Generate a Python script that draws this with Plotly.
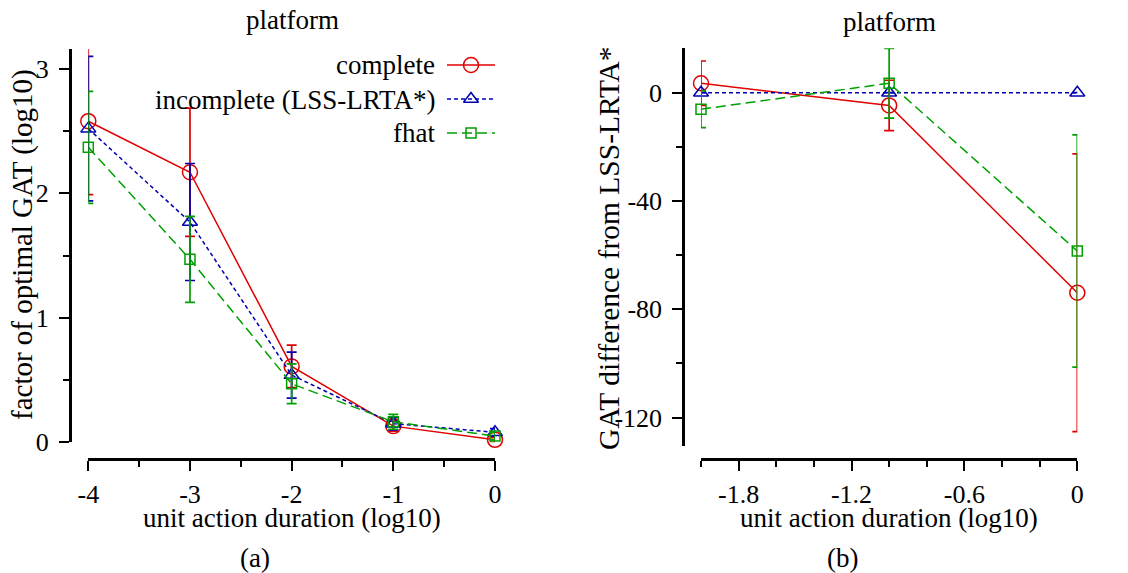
import plotly.graph_objects as go

# ---------------- data ----------------
series_names = ["complete", "incomplete (LSS-LRTA*)", "fhat"]

# panel (a)
a_x = [-4, -3, -2, -1, 0]
a_complete = [2.58, 2.17, 0.61, 0.13, 0.02]
a_complete_err = [0.59, 0.515, 0.17, 0.04, 0.02]
a_incomplete = [2.52, 1.77, 0.54, 0.15, 0.08]
a_incomplete_err = [0.58, 0.47, 0.185, 0.05, 0.03]
a_fhat = [2.37, 1.47, 0.47, 0.165, 0.05]
a_fhat_err = [0.45, 0.345, 0.16, 0.06, 0.03]

# panel (b)
b_x = [-2, -1, 0]
b_complete = [3.5, -4.7, -73.9]
b_complete_err = [8.2, 9.3, 51.3]
b_incomplete = [0, 0, 0]
b_incomplete_err = [0, 0, 0]
b_fhat = [-6.1, 3.5, -58.5]
b_fhat_err = [6.8, 12.9, 42.9]

a_xticks = [-4, -3, -2, -1, 0]
a_xticktext = ["-4", "-3", "-2", "-1", "0"]
a_yticks = [0, 1, 2, 3]
a_yticktext = ["0", "1", "2", "3"]
b_xticks = [-1.8, -1.2, -0.6, 0]
b_xticktext = ["-1.8", "-1.2", "-0.6", "0"]
b_yticks = [0, -40, -80, -120]
b_yticktext = ["0", "-40", "-80", "-120"]

# ---------------- styling ----------------
W, H = 1128, 573
FONT = "Liberation Serif, Times New Roman, Times, serif"
RED = "#e00000"
BLUE = "#0000b0"
GREEN = "#00a000"
colors = [RED, BLUE, GREEN]
dashes = ["solid", "4px,3px", "10px,5px"]
symbols = ["circle-open", "triangle-up-open", "square-open"]
msizes = [15, 13, 10]


def px(x):
    return x / W


def py(y):
    return 1 - y / H


fig = go.Figure()


def add_series(xs, ys, errs, i, xa, ya):
    fig.add_trace(go.Scatter(
        x=xs, y=ys, mode="lines+markers", xaxis=xa, yaxis=ya,
        line=dict(color=colors[i], width=1.5, dash=dashes[i]),
        marker=dict(symbol=symbols[i], size=msizes[i], color=colors[i],
                    line=dict(color=colors[i], width=1.5)),
        error_y=dict(type="data", array=errs, symmetric=True,
                     color=colors[i], thickness=1.7, width=5),
        cliponaxis=False, showlegend=False, name=series_names[i]))


for i, (ys, es) in enumerate([(a_complete, a_complete_err),
                              (a_incomplete, a_incomplete_err),
                              (a_fhat, a_fhat_err)]):
    add_series(a_x, ys, es, i, "x", "y")

for i, (ys, es) in enumerate([(b_complete, b_complete_err),
                              (b_incomplete, b_incomplete_err),
                              (b_fhat, b_fhat_err)]):
    add_series(b_x, ys, es, i, "x2", "y2")

# legend samples (custom, symbol to the right of the text)
legend_rows = [2, 1, 0]
for i, r in enumerate(legend_rows):
    fig.add_trace(go.Scatter(
        x=[0, 1], y=[r, r], mode="lines", xaxis="x3", yaxis="y3",
        line=dict(color=colors[i], width=1.5, dash=dashes[i]),
        showlegend=False, hoverinfo="skip"))
    fig.add_trace(go.Scatter(
        x=[0.5], y=[r], mode="markers", xaxis="x3", yaxis="y3",
        marker=dict(symbol=symbols[i], size=msizes[i], color=colors[i],
                    line=dict(color=colors[i], width=1.5)),
        cliponaxis=False, showlegend=False, hoverinfo="skip"))

tickfont = dict(family=FONT, size=26, color="black")
common_axis = dict(showgrid=False, zeroline=False, showline=True,
                   linecolor="black", linewidth=2.5, ticks="outside",
                   ticklen=10, tickwidth=2, tickcolor="black",
                   tickfont=tickfont, automargin=False)

fig.update_layout(
    width=W, height=H,
    margin=dict(l=0, r=0, t=0, b=0, pad=0, autoexpand=False),
    paper_bgcolor="white", plot_bgcolor="white",
    font=dict(family=FONT, size=26, color="black"),
    xaxis=dict(**common_axis, domain=[px(88.3), px(495)], range=[-4, 0],
               anchor="free", position=py(459.3),
               tickvals=a_xticks, ticktext=a_xticktext,
               ticklabelstandoff=1,
               minor=dict(dtick=0.5, tick0=0, ticks="outside", ticklen=6,
                          tickwidth=2, tickcolor="black")),
    yaxis=dict(**common_axis, domain=[py(442.3), py(49)], range=[0, 3.16],
               anchor="free", position=px(70),
               tickvals=a_yticks, ticktext=a_yticktext,
               ticklabelstandoff=5,
               minor=dict(dtick=0.5, tick0=0, ticks="outside", ticklen=6,
                          tickwidth=2, tickcolor="black")),
    xaxis2=dict(**common_axis, domain=[px(701), px(1077.3)], range=[-2, 0],
                anchor="free", position=py(459),
                tickvals=b_xticks, ticktext=b_xticktext,
                ticklabelstandoff=1,
                minor=dict(dtick=0.2, tick0=0, ticks="outside", ticklen=6,
                           tickwidth=2, tickcolor="black")),
    yaxis2=dict(**common_axis, domain=[py(445.7), py(48.3)],
                range=[-130.4, 16.4],
                anchor="free", position=px(683.3),
                tickvals=b_yticks, ticktext=b_yticktext,
                ticklabelstandoff=5,
                minor=dict(dtick=20, tick0=0, ticks="outside", ticklen=6,
                           tickwidth=2, tickcolor="black")),
    xaxis3=dict(domain=[px(447), px(495)], range=[0, 1], visible=False,
                anchor="y3", fixedrange=True),
    yaxis3=dict(domain=[py(150), py(48)], range=[-0.5, 2.5], visible=False,
                anchor="x3", fixedrange=True),
)

ann = []


def text(s, x, y, size=27, angle=0, xanchor="center"):
    ann.append(dict(text=s, x=px(x), y=py(y), xref="paper", yref="paper",
                    showarrow=False, xanchor=xanchor, yanchor="middle",
                    textangle=angle,
                    font=dict(family=FONT, size=size, color="black")))


# titles
text("platform", 292, 20)
text("platform", 889, 22)
# axis titles
text("unit action duration (log10)", 292, 518)
text("unit action duration (log10)", 889, 518)
text("factor of optimal GAT (log10)", 22, 245, size=29, angle=-90)
text("GAT difference from LSS-LRTA*", 609, 248, size=29.5, angle=-90)
# panel labels
text("(a)", 255, 558)
text("(b)", 842, 558)
# legend labels
for name, yy in zip(series_names, [65, 100, 133]):
    text(name, 437, yy, xanchor="right")

fig.update_layout(annotations=ann)

fig.write_html(
    "out.html",
    config={"displayModeBar": False, "staticPlot": True},
    post_script="document.body.style.margin='0';"
                "document.body.style.padding='0';"
                "document.body.style.overflow='hidden';",
)
